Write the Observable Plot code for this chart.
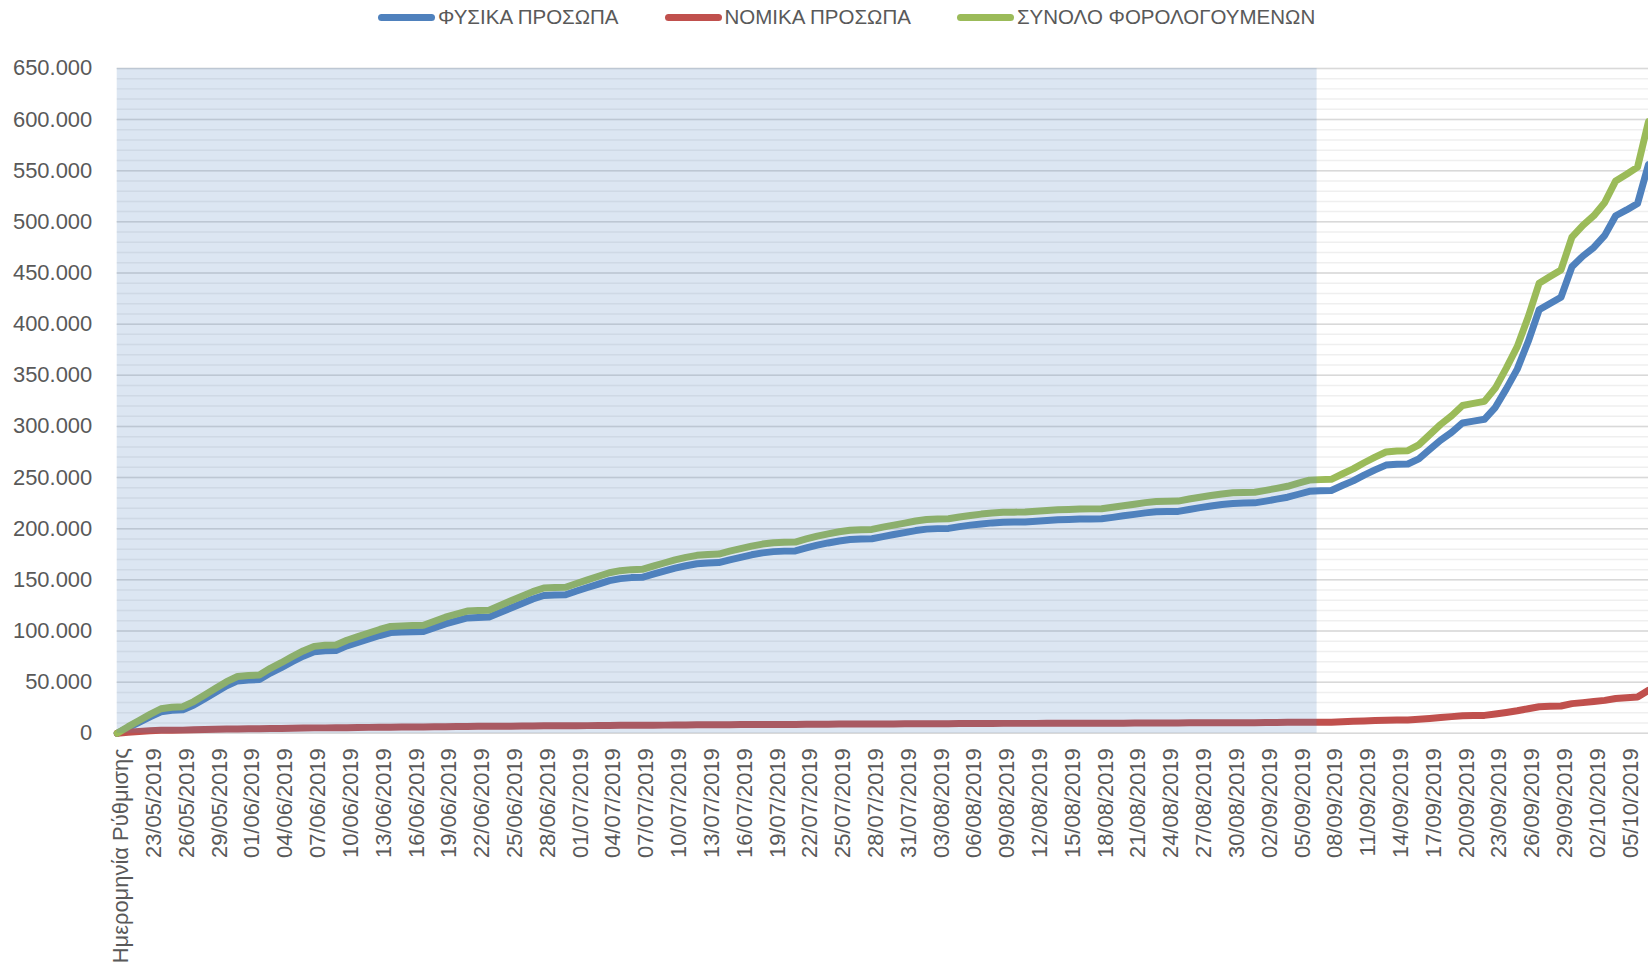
<!DOCTYPE html>
<html><head><meta charset="utf-8">
<script src="https://cdn.jsdelivr.net/npm/d3@7"></script>
<script src="https://cdn.jsdelivr.net/npm/@observablehq/plot@0.6"></script>
<style>
html,body{margin:0;padding:0;overflow:hidden;background:#fff;}
#legend{height:34px;display:flex;align-items:center;padding-left:378px;font-family:"Liberation Sans",Arial,sans-serif;font-size:20.5px;color:#595959;white-space:nowrap;}
.item{display:flex;align-items:center;margin-right:46px;}
.sw{width:57px;height:7px;border-radius:4px;margin-right:3px;}
</style></head><body>
<div id="legend"></div>
<div id="chart"></div>
<script>
// Series names and colours
const seriesNames = ["ΦΥΣΙΚΑ ΠΡΟΣΩΠΑ", "ΝΟΜΙΚΑ ΠΡΟΣΩΠΑ", "ΣΥΝΟΛΟ ΦΟΡΟΛΟΓΟΥΜΕΝΩΝ"];
const seriesColors = ["#4f81bd", "#c0504d", "#9bbb59"];

// Categories: header row + daily dates 21/05/2019 .. 07/10/2019
const firstCategory = "Ημερομηνία Ρύθμισης";
const fmtDate = d3.utcFormat("%d/%m/%Y");
const dateLabels = d3.utcDay.range(new Date(Date.UTC(2019, 4, 21)), new Date(Date.UTC(2019, 9, 8))).map(fmtDate);
const categories = [firstCategory, ...dateLabels];

// ΦΥΣΙΚΑ ΠΡΟΣΩΠΑ
const fysika = [
  0, 5500, 10700, 16100, 21100, 22500, 22900, 27600, 33800, 40100,
  46400, 51200, 52100, 52600, 58900, 64200, 70000, 75400, 79700, 80700,
  80900, 85500, 88800, 92200, 95600, 98500, 98900, 99200, 99500, 103200,
  107000, 109900, 112800, 113200, 113600, 118100, 122500, 126900, 131300, 134700,
  135200, 135500, 139100, 142500, 145900, 149300, 151200, 152200, 152500, 155600,
  158500, 161400, 163800, 165700, 166500, 166900, 169600, 172000, 174500, 176400,
  177600, 178100, 178300, 181200, 183900, 186100, 188000, 189400, 189900, 190200,
  192300, 194300, 196200, 198200, 199600, 200100, 200300, 202000, 203500, 204700,
  205700, 206300, 206500, 206600, 207300, 208000, 208700, 209000, 209400, 209600,
  209700, 211100, 212600, 214000, 215500, 216600, 216800, 216900, 218800, 220600,
  222200, 223700, 224700, 225100, 225300, 227000, 228900, 230800, 233700, 236600,
  237100, 237400, 242200, 246800, 252400, 257500, 262200, 263100, 263300, 268300,
  277500, 286600, 294200, 303400, 305200, 307000, 318700, 336700, 356000, 383000,
  414000, 420100, 426300, 456000, 466500, 475000, 486800, 506000, 511700, 518000, 556000
];
// ΝΟΜΙΚΑ ΠΡΟΣΩΠΑ
const nomika = [
  0, 1000, 1800, 2400, 2900, 3000, 3100, 3400, 3700, 3900,
  4100, 4300, 4400, 4400, 4600, 4800, 5000, 5100, 5300, 5300,
  5400, 5500, 5700, 5800, 5900, 6000, 6100, 6100, 6100, 6300,
  6500, 6600, 6700, 6800, 6800, 6900, 7000, 7100, 7200, 7300,
  7300, 7300, 7400, 7500, 7600, 7700, 7800, 7800, 7800, 7900,
  8000, 8100, 8200, 8300, 8300, 8300, 8400, 8500, 8500, 8600,
  8700, 8700, 8700, 8800, 8900, 8900, 9000, 9100, 9100, 9100,
  9200, 9200, 9300, 9300, 9400, 9400, 9400, 9500, 9500, 9600,
  9600, 9700, 9700, 9700, 9700, 9800, 9800, 9800, 9800, 9800,
  9800, 9900, 9900, 10000, 10000, 10100, 10100, 10100, 10200, 10200,
  10300, 10300, 10400, 10400, 10400, 10500, 10600, 10700, 10800, 10900,
  10900, 10900, 11300, 11700, 12100, 12500, 12800, 12900, 13000, 13700,
  14500, 15400, 16300, 17100, 17300, 17500, 18800, 20300, 22000, 24000,
  26000, 26400, 26700, 29000, 30000, 31000, 32200, 34000, 34800, 35500, 42000
];
// ΣΥΝΟΛΟ ΦΟΡΟΛΟΓΟΥΜΕΝΩΝ
const synolo = [
  0, 6500, 12500, 18500, 24000, 25500, 26000, 31000, 37500, 44000,
  50500, 55500, 56500, 57000, 63500, 69000, 75000, 80500, 85000, 86000,
  86300, 91000, 94500, 98000, 101500, 104500, 105000, 105300, 105600, 109500,
  113500, 116500, 119500, 120000, 120400, 125000, 129500, 134000, 138500, 142000,
  142500, 142800, 146500, 150000, 153500, 157000, 159000, 160000, 160300, 163500,
  166500, 169500, 172000, 174000, 174800, 175200, 178000, 180500, 183000, 185000,
  186300, 186800, 187000, 190000, 192800, 195000, 197000, 198500, 199000, 199300,
  201500, 203500, 205500, 207500, 209000, 209500, 209700, 211500, 213000, 214300,
  215300, 216000, 216200, 216300, 217000, 217800, 218500, 218800, 219200, 219400,
  219500, 221000, 222500, 224000, 225500, 226700, 226900, 227000, 229000, 230800,
  232500, 234000, 235100, 235500, 235700, 237500, 239500, 241500, 244500, 247500,
  248000, 248300, 253500, 258500, 264500, 270000, 275000, 276000, 276300, 282000,
  292000, 302000, 310500, 320500, 322500, 324500, 337500, 357000, 378000, 407000,
  440000, 446500, 453000, 485000, 496500, 506000, 519000, 540000, 546500, 553500, 598000
];

// Y ticks
const yMax = 650000;
const majorTicks = d3.range(0, yMax + 1, 50000);
const minorTicks = d3.range(0, yMax + 1, 10000);
// Shaded period (category index range)
const shadeStart = 0, shadeEnd = 109.7;

const grFormat = d3.formatLocale({decimal: ",", thousands: ".", grouping: [3], currency: ["", "€"]}).format(",");

const rows = categories.map((c, i) => ({i, c, fysika: fysika[i], nomika: nomika[i], synolo: synolo[i]}));

// Legend
const legend = document.getElementById("legend");
seriesNames.forEach((n, k) => {
  const it = document.createElement("div"); it.className = "item";
  const sw = document.createElement("div"); sw.className = "sw"; sw.style.background = seriesColors[k];
  const tx = document.createElement("span"); tx.textContent = n;
  it.appendChild(sw); it.appendChild(tx); legend.appendChild(it);
});

const font = '"Liberation Sans", Arial, sans-serif';
const chart = Plot.plot({
  width: 1652, height: 934,
  marginLeft: 117, marginRight: 0, marginTop: 34, marginBottom: 233.5,
  style: {fontFamily: font, fontSize: "22px", color: "#595959", background: "white", overflow: "visible"},
  x: {type: "linear", domain: [0, categories.length - 1], label: null},
  y: {domain: [0, yMax], label: null},
  marks: [
    Plot.ruleY(minorTicks, {stroke: "#efefef", strokeWidth: 1.5}),
    Plot.ruleY(majorTicks, {stroke: "#d9d9d9", strokeWidth: 1.5}),
    Plot.line(rows, {x: "i", y: "fysika", stroke: seriesColors[0], strokeWidth: 7, strokeLinejoin: "round"}),
    Plot.line(rows, {x: "i", y: "nomika", stroke: seriesColors[1], strokeWidth: 7, strokeLinejoin: "round"}),
    Plot.line(rows, {x: "i", y: "synolo", stroke: seriesColors[2], strokeWidth: 7, strokeLinejoin: "round"}),
    Plot.rect([{x1: shadeStart, x2: shadeEnd, y1: 0, y2: yMax}], {x1: "x1", x2: "x2", y1: "y1", y2: "y2", fill: "#4f81bd", fillOpacity: 0.2}),
    Plot.axisY({ticks: majorTicks, tickFormat: grFormat, tickSize: 0, tickPadding: 25, fontSize: 22, label: null}),
    Plot.axisX({ticks: d3.range(0, categories.length, 3), tickFormat: i => categories[i], tickRotate: -90, tickSize: 0, tickPadding: 15, dx: 4, fontSize: 22, label: null})
  ]
});
document.getElementById("chart").appendChild(chart);
</script>
</body></html>
